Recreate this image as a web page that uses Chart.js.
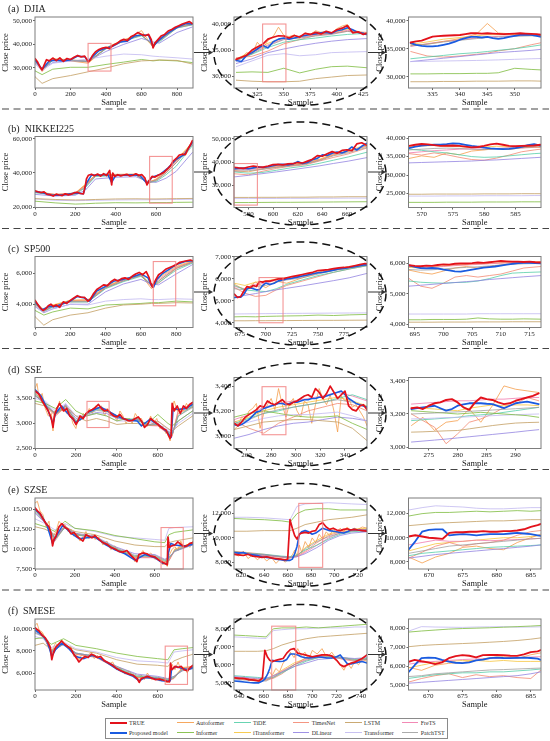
<!DOCTYPE html>
<html><head><meta charset="utf-8">
<script src="https://cdn.jsdelivr.net/npm/chart.js@4.4.1/dist/chart.umd.min.js"></script>
<style>
html,body{margin:0;padding:0;background:#fff;}
#page{position:relative;width:550px;height:741px;overflow:hidden;font-family:'Liberation Serif','Times New Roman',serif;}
canvas.panel{position:absolute;}
#overlay{position:absolute;left:0;top:0;pointer-events:none;z-index:5;}
.ttl{position:absolute;font-size:10px;color:#222;white-space:pre;line-height:12px;z-index:6;}
#legend{position:absolute;left:105px;top:718px;width:343px;height:21px;border:1px solid #8a8a8a;box-sizing:border-box;background:#fff;z-index:6;}
.li{position:absolute;font-size:6px;line-height:8px;color:#333;white-space:nowrap;}
.ln{position:absolute;height:0;}
</style></head><body><div id="page"></div>
<script>
// ================= DATA =================
// (a) DJIA - full
const A1_X=[0,15,30,40,50,65,80,100,120,140,160,180,200,220,240,260,280,300,310,325,340,360,380,400,420,440,460,480,500,520,540,560,580,600,620,640,655,665,675,690,710,730,750,770,790,810,830,850,870,885];
const A1_TRUE=[34000,32500,30200,29200,31000,33500,33000,34200,33100,34300,32800,34000,33600,34500,35300,34700,35000,32600,33300,35400,36800,37800,38400,38700,38200,39600,40300,41500,42100,41600,43200,44000,45000,44200,43600,44200,42000,38500,40500,41800,43500,44200,45600,46300,47200,47900,48600,49100,49600,48800];
const A1_PX=[0,40,80,120,160,200,240,280,300,320,360,400,440,480,520,560,600,640,665,690,730,770,810,850,885];
const A1_PROP=[33500,29500,33000,33300,33000,33500,35000,34800,32800,34500,37300,38400,39300,41000,41300,43500,44000,43800,39000,41200,43800,45800,47500,48800,48600];
const A1_MX=[0,40,100,200,300,400,500,600,665,700,800,885];
const A1_INF=[28800,27200,29500,30300,30300,31500,32500,33600,33000,33300,33000,32300];
const A1_LSTM=[26300,23500,25500,26800,28400,30000,31800,33000,33200,33400,33200,31700];
const A1_TRANS=[31700,28900,32000,33000,33800,35000,35900,35600,35000,34800,34300,33800];
const A1_DLIN=[32200,29600,32300,33000,33000,37000,40000,42500,41000,40500,45000,47300];
const A1_TIDE=[33000,29300,33200,33200,32800,38100,41500,43600,40000,41000,47000,48200];
const A1_TIMES=[33400,29000,33500,33300,32500,38300,41700,44000,39500,41500,47300,48500];
const A1_AUTO=[33000,28500,33800,33000,32000,38500,41300,45800,38800,41800,47400,48700];
const A1_ITR=[33800,29300,33900,33500,32700,38600,42000,44300,39000,42000,47400,48800];
const A1_FRETS=[33600,29400,33700,33400,32600,38400,41800,44100,39300,41600,47200,48500];
const A1_PATCH=[33300,29200,33600,33300,32700,38200,41600,43800,39800,41400,46900,48300];
const A1_XT=[0,200,400,600,800], A1_YT=[30000,40000,50000];
// (a) DJIA - zoom 1
const A2_X=[305,310,315,320,325,330,335,340,345,350,355,360,365,370,375,380,385,390,395,400,405,410,415,420,425,428];
const A2_TRUE=[33200,33600,34000,35000,35600,36100,37100,37450,37750,37700,37300,37800,37500,38200,38000,38400,38100,38600,38300,38900,39200,39700,38300,38500,38000,38200];
const A2_PROP=[33000,32800,34000,34500,35200,35900,35400,36600,37100,37300,37100,37300,37600,37800,38000,38100,38300,38400,38200,38700,38900,39300,38900,38400,38200,38000];
const A2_AUTO=[33000,33600,34500,34200,36500,35300,36800,37600,39400,37800,37600,37900,37300,38300,38000,38700,38400,38600,38200,39100,39600,39900,38500,38600,38100,38000];
const A2_MX=[305,320,335,350,365,380,395,410,428];
const A2_INF=[30700,30800,30700,31500,30600,31300,31800,31900,31600];
const A2_LSTM=[29200,29000,28900,28900,29000,29500,29800,30100,30200];
const A2_TRANS=[31800,32900,34000,34300,33900,34100,34500,34600,34700];
const A2_DLIN=[32400,33300,34500,35200,35800,36300,36700,37000,37200];
const A2_TIDE=[33000,34200,35500,36500,37000,37300,37700,38000,38200];
const A2_TIMES=[33500,33800,34800,36200,37000,37800,38200,38600,38400];
const A2_ITR=[33300,34700,36300,37300,37600,38000,38300,39000,38200];
const A2_FRETS=[33100,34500,36000,37100,37400,37900,38100,38800,38100];
const A2_PATCH=[32900,34300,35800,37000,37300,37700,38000,38600,38000];
const A2_XT=[325,350,375,400,425], A2_YT=[30000,35000,40000];
// (a) DJIA - zoom 2
const A3_X=[331,332,333,334,335,336,337,338,339,340,341,342,343,344,345,346,347,348,349,350,351,352,353,354,355];
const A3_TRUE=[36100,36300,36450,36800,37150,37250,37300,37350,37400,37450,37600,37750,37750,37700,37750,37700,37650,37600,37650,37700,37750,37700,37650,37600,37450];
const A3_PROP=[36000,35700,35500,35400,35400,35500,35700,35900,36200,36600,36900,37100,37100,37000,37100,36900,36750,36900,37100,37300,37450,37500,37450,37300,37100];
const A3_MX=[331,334,337,340,343,345,347,350,353,355];
const A3_AUTO=[35600,35800,36300,36800,37600,39500,37800,37600,37400,37300];
const A3_TIMES=[34500,33700,33500,33700,34000,34200,34600,35000,35700,36100];
const A3_TIDE=[33200,33500,33800,34100,34300,34500,34700,35000,35400,35700];
const A3_DLIN=[32700,33000,33300,33600,33900,34100,34300,34500,34700,34900];
const A3_TRANS=[32700,32750,32800,32850,32900,32950,33000,33100,33200,33250];
const A3_INF=[30500,30500,30550,30550,30600,30600,30700,31500,31300,31200];
const A3_LSTM=[29100,29100,29150,29150,29200,29200,29200,29250,29250,29200];
const A3_FRETS=[35400,35900,36300,36600,36900,37100,37200,37300,37400,37300];
const A3_ITR=[35800,36200,36700,37000,37300,37500,37500,37500,37500,37400];
const A3_PATCH=[35500,35800,36200,36500,36800,37000,37100,37200,37300,37200];
const A3_XT=[335,340,345,350], A3_YT=[30000,35000,40000];

// (b) NIKKEI225 - full
const B1_X=[0,15,30,45,60,75,90,105,120,135,150,165,180,195,210,225,240,250,255,265,280,295,310,325,340,355,370,380,385,395,410,425,440,455,470,485,500,515,530,545,555,565,580,595,610,625,640,655,670,685,700,715,730,745,760,770,780];
const B1_TRUE=[29600,29000,28600,28900,27500,27300,26500,27600,27100,26800,27800,27200,27600,28500,28700,28000,27800,33000,36500,38700,39300,38400,39400,38200,39600,38500,41500,33000,40000,38000,39000,38300,38800,39200,38300,38700,39500,38600,39000,37000,33000,35500,38000,37600,38700,39500,40500,42300,44000,47000,48500,50500,51000,50800,54500,56500,59000];
const B1_PX=[0,40,80,120,160,200,240,255,280,320,360,380,400,440,480,520,555,580,620,660,700,740,780];
const B1_PROP=[29200,28400,27000,27000,27500,28300,27900,34000,38800,38700,39200,34500,38600,38700,39000,38600,33800,37500,39200,43000,48000,50700,58000];
const B1_MX=[0,100,200,250,300,400,500,560,600,650,700,780];
const B1_INF=[23500,22500,21800,22000,22300,22600,22500,22600,22700,22700,22800,22900];
const B1_LSTM=[25000,24500,24200,24300,24500,24800,24900,24800,24800,24900,25000,25100];
const B1_TRANS=[24800,24000,23800,23900,24000,24200,24300,24300,24400,24400,24500,24600];
const B1_DLIN=[27500,26500,27000,30000,36500,37500,37800,35000,34500,37000,41000,52000];
const B1_TIDE=[28500,27000,27500,31500,38000,38500,38800,34500,35000,39000,44000,56000];
const B1_TIMES=[28800,27300,28000,32500,38500,38800,38900,34000,35500,40000,46000,57000];
const B1_AUTO=[29000,26800,28200,33000,39000,39200,39400,35000,36000,41000,47000,57500];
const B1_ITR=[29200,27500,28300,33500,39000,38900,39100,34000,36500,41500,47500,58000];
const B1_FRETS=[29000,27400,28200,33000,38800,38800,39000,34200,36200,41000,47000,57500];
const B1_PATCH=[28600,27200,27800,32000,38300,38600,38800,34300,35800,40200,46000,56500];
const B1_XT=[0,200,400,600], B1_YT=[20000,40000,60000];
// (b) zoom 1
const B2_X=[568,572,576,580,584,588,592,596,600,604,608,612,616,620,624,628,632,636,640,644,648,652,656,660,664,668,672,676];
const B2_TRUE=[37800,37500,37300,37900,38300,38000,37800,38300,38900,39000,38800,39200,39300,39800,39600,40400,41200,42800,42500,43600,44500,43800,45000,45300,44900,47800,48300,47200];
const B2_PROP=[37000,37300,37400,37100,37500,37900,37700,38000,38400,38900,39000,38800,39200,40200,39400,39800,41000,41600,43100,42800,43800,44300,43900,44800,46500,45200,46800,48000];
const B2_MX=[568,580,591,603,614,626,638,649,661,676];
const B2_INF=[22600,22600,22650,22700,22700,22750,22800,22850,22900,22950];
const B2_LSTM=[24800,24800,24850,24850,24900,24900,25000,25000,25100,25100];
const B2_TRANS=[24300,24300,24350,24350,24400,24400,24450,24450,24500,24500];
const B2_DLIN=[33600,34300,35000,35800,36600,37500,38400,39400,40400,41900];
const B2_TIDE=[35800,35200,35500,36500,37500,38300,39500,40800,42200,44200];
const B2_TIMES=[35000,34500,36000,37300,38200,38800,40500,42000,43500,46000];
const B2_AUTO=[36300,35800,37000,37800,38600,39300,41000,43000,44500,46800];
const B2_ITR=[37000,37200,37500,38200,38900,39600,41300,43500,44800,47500];
const B2_FRETS=[36500,36800,37200,38000,38600,39400,41000,43200,44600,47000];
const B2_PATCH=[36000,36300,36800,37700,38400,39100,40700,42700,44000,46300];
const B2_XT=[580,600,620,640,660], B2_YT=[30000,40000,50000];
// (b) zoom 2
const B3_X=[568,569,570,571,572,573,574,575,576,577,578,579,580,581,582,583,584,585,586,587,588,589];
const B3_TRUE=[37900,38200,38400,38300,38100,37900,37950,38000,37900,37700,37500,37600,37900,38300,38500,38200,37900,37800,37900,37950,38000,38200];
const B3_PROP=[37300,37700,37950,38100,38200,38250,38400,38600,38500,38200,37900,37700,37400,37200,37100,37000,37100,37300,37600,38100,38400,38000];
const B3_MX=[568,570,572,574,576,578,580,582,584,586,588,589];
const B3_AUTO=[34500,35200,34800,36000,35500,36500,36800,37200,36900,37400,37600,37500];
const B3_TIMES=[35800,35400,36000,35500,34800,34200,34000,34600,35400,36300,36800,37000];
const B3_TIDE=[37000,36700,36300,36000,35500,35000,34800,34900,35200,35500,35800,35900];
const B3_DLIN=[33300,33400,33500,33600,33700,33800,34000,34100,34300,34500,34700,34800];
const B3_ITR=[37600,37900,38000,37800,37700,37500,37600,37800,37700,37600,37900,38000];
const B3_FRETS=[36000,36300,36600,36800,37000,37100,37000,37200,37400,37300,37500,37600];
const B3_PATCH=[36800,37000,37200,37300,37200,37000,36900,37100,37300,37400,37600,37700];
const B3_INF=[22600,22600,22600,22650,22650,22650,22700,22700,22700,22750,22750,22750];
const B3_LSTM=[24800,24800,24850,24850,24850,24850,24900,24900,24900,24950,24950,24950];
const B3_TRANS=[24300,24300,24300,24350,24350,24350,24400,24400,24400,24400,24450,24450];
const B3_XT=[570,575,580,585], B3_YT=[25000,30000,35000,40000];

// (c) SP500 - full
const C1_X=[0,15,30,45,60,75,90,105,120,140,160,180,200,220,240,260,280,300,315,330,350,370,390,410,430,450,470,490,510,530,550,570,590,610,630,645,655,665,672,685,700,720,740,760,780,800,820,840,860,880,892];
const C1_TRUE=[4250,4000,3750,3600,3700,3900,4000,3850,3950,3800,4150,4050,4250,4400,4550,4450,4450,4200,4350,4650,4950,5100,5250,5200,5450,5600,5500,5650,5700,5600,5800,5950,6050,5900,6100,5750,5400,5100,5300,5600,5900,6050,6250,6350,6450,6550,6700,6750,6800,6850,6800];
const C1_PX=[0,40,80,120,160,200,240,280,310,350,400,450,500,550,600,640,660,672,690,720,760,800,850,892];
const C1_PROP=[4150,3650,3850,3850,4050,4200,4500,4400,4200,4850,5150,5500,5600,5750,5950,5700,5200,5100,5600,5950,6250,6550,6750,6800];
const C1_MX=[0,50,100,200,300,400,500,600,660,700,800,892];
const C1_INF=[3600,3300,3500,3750,3700,3950,4000,4050,4100,4100,4200,4150];
const C1_LSTM=[3200,2650,3000,3300,3450,3750,3950,4000,4050,4050,4100,4080];
const C1_TRANS=[3900,3500,3700,4000,3950,4200,4300,4350,4300,4300,4350,4320];
const C1_DLIN=[3850,3450,3700,4000,4000,4800,5300,5600,5300,5250,5950,6550];
const C1_TIDE=[4050,3550,3800,4150,4150,5000,5450,5800,5250,5400,6200,6650];
const C1_TIMES=[4100,3600,3850,4200,4200,5050,5500,5850,5200,5350,6300,6700];
const C1_AUTO=[3950,3500,3900,4250,4300,5100,5600,5900,5000,5500,6350,6750];
const C1_ITR=[4200,3650,3950,4250,4250,5150,5600,5950,5200,5700,6450,6800];
const C1_FRETS=[4150,3600,3900,4200,4200,5100,5550,5900,5150,5600,6400,6750];
const C1_PATCH=[4000,3550,3850,4150,4150,5050,5500,5850,5250,5500,6300,6700];
const C1_XT=[0,200,400,600,800], C1_YT=[4000,6000];
// (c) zoom 1
const C2_X=[670,673,676,679,682,685,688,691,694,697,700,704,708,712,716,720,725,730,735,740,745,750,755,760,765,770,775,780,785,790,795,797];
const C2_TRUE=[5300,5150,5200,5450,5650,5600,5700,5650,5880,5850,5900,5900,5950,6000,6000,6050,6100,6150,6200,6250,6300,6380,6400,6420,6470,6500,6520,6550,6600,6650,6700,6680];
const C2_PROP=[5150,5170,5170,5300,5550,5600,5550,5500,5510,5700,5810,5740,5800,5910,5950,6000,6030,6080,6130,6180,6230,6280,6300,6350,6400,6450,6480,6520,6560,6600,6650,6640];
const C2_MX=[670,680,690,700,710,720,735,750,765,780,797];
const C2_INF=[4270,4280,4270,4290,4300,4310,4320,4350,4330,4360,4380];
const C2_LSTM=[4090,4090,4095,4095,4100,4100,4105,4110,4110,4115,4120];
const C2_TRANS=[4400,4405,4410,4415,4420,4425,4430,4435,4440,4445,4450];
const C2_DLIN=[5150,5250,5330,5420,5500,5570,5680,5800,5920,6050,6250];
const C2_TIDE=[5700,5500,5450,5420,5550,5750,5950,6150,6300,6450,6600];
const C2_TIMES=[5600,5350,5200,5250,5500,5700,5900,6100,6300,6450,6600];
const C2_AUTO=[5750,5500,5850,5600,5900,5800,6050,6250,6400,6500,6650];
const C2_ITR=[5800,5700,5850,5900,6000,6050,6150,6300,6450,6550,6680];
const C2_FRETS=[5650,5550,5750,5800,5950,6000,6100,6280,6420,6520,6650];
const C2_PATCH=[5550,5500,5650,5700,5850,5950,6050,6220,6380,6500,6620];
const C2_XT=[675,700,725,750,775], C2_YT=[4000,5000,6000,7000];
// (c) zoom 2
const C3_X=[694,695,696,697,698,699,700,701,702,703,704,705,706,707,708,709,710,711,712,713,714,715,716,717];
const C3_TRUE=[5940,5920,5910,5930,5920,5950,5970,5960,5990,6000,6000,6010,6030,6020,6040,6060,6080,6070,6060,6060,6050,6060,6040,6030];
const C3_PROP=[5940,5890,5850,5840,5850,5840,5800,5770,5740,5730,5760,5800,5830,5860,5880,5900,5930,5960,5990,6010,6020,6020,6010,6000];
const C3_MX=[694,696,698,700,702,704,706,708,710,712,714,717];
const C3_AUTO=[5780,5700,5650,5750,5850,5900,5850,5900,5950,6000,6030,6050];
const C3_TIMES=[5500,5250,5180,5350,5550,5600,5550,5600,5650,5750,5850,5900];
const C3_TIDE=[5420,5380,5360,5350,5370,5380,5420,5500,5600,5680,5700,5720];
const C3_DLIN=[5250,5280,5310,5340,5370,5400,5430,5470,5500,5530,5560,5600];
const C3_TRANS=[4330,4330,4330,4330,4330,4330,4340,4340,4340,4340,4340,4340];
const C3_INF=[4140,4140,4150,4150,4150,4160,4200,4170,4160,4160,4170,4160];
const C3_LSTM=[4060,4060,4060,4065,4065,4065,4070,4070,4070,4075,4075,4075];
const C3_ITR=[5870,5850,5880,5920,5950,5960,5980,6000,6020,6030,6040,6050];
const C3_FRETS=[5900,5880,5870,5900,5930,5950,5970,5990,6010,6030,6040,6050];
const C3_PATCH=[5800,5780,5790,5820,5850,5870,5890,5920,5950,5970,5990,6000];
const C3_XT=[695,700,705,710,715], C3_YT=[4000,5000,6000];

// (d) SSE - full
const D1_X=[0,10,20,35,50,65,80,88,95,105,120,130,140,155,170,185,200,210,220,235,250,265,280,295,310,325,340,355,370,385,400,415,430,445,460,475,490,505,520,535,550,565,580,595,610,625,640,650,660,665,670,680,695,710,725,740,755,770];
const D1_TRUE=[3650,3620,3580,3450,3350,3250,3100,2920,3150,3280,3400,3320,3250,3300,3150,3100,2980,3050,3150,3100,3200,3250,3280,3320,3380,3300,3250,3270,3200,3150,3130,3180,3100,3080,3050,3060,3100,3130,3050,2920,2980,3100,3050,3000,2950,2900,2870,2780,2700,2750,3400,3250,3350,3200,3350,3300,3380,3420];
const D1_AUTO=[3700,3800,3500,3600,3300,3150,3200,2850,3250,3200,3450,3250,3300,3200,3250,3000,2900,3100,3050,3200,3150,3300,3200,3350,3300,3350,3150,3300,3150,3200,3050,3250,3150,3000,3100,3000,3200,3100,3100,2950,3000,3150,3000,3100,2900,2950,2800,2850,2650,2800,3300,3450,3250,3300,3250,3400,3300,3350];
const D1_PX=[0,30,60,88,100,130,160,200,230,260,290,320,350,400,450,500,520,560,600,640,665,675,700,740,770];
const D1_PROP=[3680,3550,3300,3000,3200,3350,3200,3020,3100,3230,3280,3330,3260,3150,3070,3050,2950,3080,2980,2850,2720,3300,3280,3300,3380];
const D1_MX=[0,50,100,150,200,250,300,350,400,450,500,550,600,650,670,700,770];
const D1_INF=[3450,3400,3300,3480,3250,3150,3200,3150,3050,3100,3050,3000,3180,3000,2950,3050,3250];
const D1_LSTM=[3400,3350,3200,3350,3150,3050,3100,3050,2980,3000,3000,2950,3050,2900,2850,2950,3150];
const D1_TRANS=[3500,3450,3250,3400,3150,3150,3200,3150,3050,3050,3050,3000,3050,2880,2850,3000,3200];
const D1_DLIN=[3550,3420,3200,3380,3100,3150,3220,3200,3100,3080,3080,2980,3000,2850,2800,3050,3250];
const D1_TIDE=[3600,3380,3180,3350,3050,3180,3280,3250,3150,3080,3100,2970,2980,2820,2780,3150,3350];
const D1_TIMES=[3580,3350,3150,3330,3020,3200,3300,3260,3140,3070,3080,2960,2970,2800,2760,3200,3330];
const D1_ITR=[3620,3370,3180,3360,3030,3200,3300,3280,3150,3070,3090,2960,2960,2800,2750,3250,3380];
const D1_FRETS=[3640,3360,3170,3340,3020,3210,3310,3290,3140,3060,3080,2960,2950,2790,2740,3270,3390];
const D1_PATCH=[3560,3390,3190,3350,3060,3170,3260,3240,3120,3080,3080,2970,2990,2830,2790,3150,3320];
const D1_XT=[0,200,400,600], D1_YT=[2500,3000,3500];
// (d) zoom 1
const D2_X=[250,253,256,259,262,265,268,271,274,277,280,283,286,289,292,295,298,301,304,307,310,313,316,319,322,325,328,331,334,337,340,343,346,349,352,355,358];
const D2_TRUE=[3100,3080,3110,3150,3170,3190,3210,3240,3230,3280,3260,3250,3270,3290,3260,3250,3270,3280,3300,3320,3330,3310,3380,3350,3300,3340,3400,3350,3300,3330,3360,3240,3210,3200,3240,3250,3210];
const D2_PROP=[3090,3080,3090,3110,3130,3160,3190,3200,3220,3230,3240,3250,3260,3260,3250,3260,3270,3270,3280,3290,3290,3300,3300,3310,3310,3320,3330,3340,3350,3360,3330,3300,3280,3260,3250,3240,3230];
const D2_AUTO=[3050,3080,3150,3130,3200,3220,3260,3060,3180,3250,3300,3210,3380,3250,3150,3260,3300,3200,3150,3280,3250,3100,3250,3380,3300,3250,3330,3200,3030,3320,3280,3300,3230,3250,3200,3150,3080];
const D2_MX=[250,262,274,286,298,310,322,334,346,358];
const D2_INF=[3150,3180,3200,3180,3160,3150,3150,3160,3100,3050];
const D2_LSTM=[3050,3080,3110,3120,3130,3130,3120,3110,3060,2960];
const D2_TRANS=[3080,3110,3140,3160,3170,3170,3180,3190,3160,3120];
const D2_DLIN=[2980,3010,3050,3080,3100,3110,3130,3150,3140,3120];
const D2_TIDE=[3100,3140,3180,3200,3230,3250,3270,3300,3330,3290];
const D2_TIMES=[3120,3060,3020,3100,3150,3200,3230,3260,3250,3200];
const D2_ITR=[3110,3150,3200,3230,3250,3270,3290,3310,3280,3240];
const D2_FRETS=[3130,3170,3230,3260,3280,3300,3320,3350,3320,3280];
const D2_PATCH=[3090,3130,3180,3210,3230,3250,3270,3290,3270,3230];
const D2_XT=[260,280,300,320,340], D2_YT=[3000,3200,3400];
// (d) zoom 2
const D3_X=[272,273,274,275,276,277,278,279,280,281,282,283,284,285,286,287,288,289,290,291,292,293,294];
const D3_TRUE=[3235,3240,3230,3250,3265,3270,3285,3290,3270,3240,3225,3270,3300,3290,3285,3270,3260,3265,3280,3290,3300,3310,3325];
const D3_PROP=[3230,3235,3240,3245,3250,3235,3220,3230,3250,3258,3265,3266,3265,3262,3260,3248,3235,3250,3265,3270,3275,3268,3260];
const D3_MX=[272,274,276,278,280,282,284,286,288,290,292,294];
const D3_AUTO=[3130,3180,3100,3150,3160,3230,3150,3250,3370,3350,3340,3330];
const D3_TIMES=[3200,3160,3120,3020,3080,3150,3170,3200,3240,3260,3300,3280];
const D3_TIDE=[3160,3165,3170,3175,3180,3190,3195,3200,3210,3220,3230,3240];
const D3_FRETS=[3260,3265,3270,3275,3280,3280,3285,3290,3290,3295,3300,3300];
const D3_ITR=[3240,3235,3230,3225,3220,3235,3245,3255,3250,3255,3255,3250];
const D3_INF=[3220,3215,3210,3205,3200,3205,3210,3205,3200,3195,3190,3180];
const D3_LSTM=[3090,3092,3095,3098,3100,3110,3120,3130,3138,3145,3148,3150];
const D3_TRANS=[3170,3172,3175,3178,3180,3183,3186,3190,3193,3196,3198,3200];
const D3_DLIN=[3030,3036,3042,3048,3055,3062,3069,3076,3083,3090,3098,3105];
const D3_PATCH=[3200,3203,3206,3210,3213,3216,3220,3224,3228,3232,3236,3240];
const D3_XT=[275,280,285,290], D3_YT=[3000,3200,3400];

// (e) SZSE - full
const E1_X=[0,12,25,40,55,70,80,88,95,105,120,135,150,165,180,195,210,225,240,255,270,285,300,320,340,360,380,400,420,440,460,480,500,510,520,540,560,580,600,620,640,655,662,666,672,685,700,715,730,745,760,775,790];
const E1_TRUE=[15200,14800,14500,13800,13200,12800,12000,10400,11200,11600,12800,13200,12700,12500,11900,12100,11600,11300,11000,11800,11600,11400,11700,11200,10800,10600,10200,10000,9700,9600,9800,9200,8700,8400,9300,9500,9400,9100,9000,8600,8300,8100,8000,11500,10200,10400,10500,10900,10600,10300,10400,10700,10800];
const E1_AUTO=[15800,16000,14800,14300,12800,13500,11500,10800,11800,12200,13500,13000,13100,12200,12500,11600,12000,11000,11500,12200,11300,11800,11200,11500,10500,11000,9900,10400,9600,9900,9400,9500,8400,9200,9000,9800,9100,9500,8700,8900,8000,8500,7800,8200,9200,9900,10300,9800,11000,10100,10600,10200,11000];
const E1_PX=[0,30,60,88,110,140,180,220,260,300,350,400,450,500,550,600,640,662,668,680,700,730,760,790];
const E1_PROP=[15000,14300,13000,10700,11800,13000,12000,11300,11400,11500,10600,9900,9400,8600,9300,8900,8200,8100,9500,10700,10500,10400,10400,10600];
const E1_MX=[0,50,100,150,200,300,400,500,600,650,670,700,790];
const E1_INF=[13200,12800,12200,13500,12600,12300,11700,11300,10900,10800,11800,12100,12400];
const E1_TRANS=[13800,13200,12400,13200,12600,12200,11600,11400,11200,11100,12600,12700,12800];
const E1_LSTM=[12800,12500,11800,12800,12200,11800,11000,10500,10300,10300,10800,11000,11400];
const E1_DLIN=[14500,13300,11500,12800,12000,11600,10300,9400,9300,8700,9000,9700,10500];
const E1_TIDE=[14900,13400,11200,12700,11800,11500,10100,9100,9100,8500,8800,9800,10600];
const E1_TIMES=[15000,13300,11000,12800,11800,11400,10000,9000,9000,8400,8600,9900,10700];
const E1_ITR=[15100,13500,11300,12900,11900,11500,10100,9000,9000,8300,8500,10000,10800];
const E1_FRETS=[15100,13400,11200,12900,11800,11500,10000,8900,8900,8300,8500,9800,10700];
const E1_PATCH=[14700,13400,11300,12700,11900,11500,10200,9200,9200,8600,8900,9700,10600];
const E1_XT=[0,200,400,600], E1_YT=[7500,10000,12500,15000];
// (e) zoom 1
const E2_X=[614,618,622,626,630,634,638,642,646,650,654,658,660,662,664,666,668,670,672,675,678,681,684,687,690,693,696,699,702,705,708,711,714,717,720,724,728];
const E2_TRUE=[8650,8600,8550,8650,8500,8450,8400,8450,8350,8300,8250,8200,8250,11500,10800,10200,9900,10300,10400,10450,10400,10550,10600,11100,11250,10900,10700,10800,10650,10600,10700,10750,10650,10700,10650,10600,10550];
const E2_PROP=[8800,8750,8800,8650,8600,8550,8450,8400,8350,8250,8200,8150,8150,8150,8250,8700,9300,10300,10500,10600,10500,10300,10400,10600,10800,10700,10600,10550,10500,10450,10400,10500,10650,10700,10650,10600,10600];
const E2_AUTO=[8700,8500,8900,8300,8600,8200,8500,8100,8400,7900,8300,8000,8200,8400,8600,9000,8500,9400,8800,9700,9200,10000,9600,10300,9900,10500,10200,10700,10400,10800,10500,10900,10600,10800,10700,10900,10800];
const E2_MX=[614,625,640,655,662,668,675,685,695,705,715,728];
const E2_INF=[11600,11550,11500,11400,11300,12000,12300,12400,12400,12300,12300,12300];
const E2_TRANS=[11700,11700,11650,11550,11500,12600,12800,12850,12900,12850,12800,12750];
const E2_LSTM=[10550,10550,10600,10600,10600,10800,11100,11300,11500,11600,11700,11900];
const E2_DLIN=[8800,8700,8600,8450,8400,8450,8700,9200,9800,10200,10400,10500];
const E2_TIDE=[8850,8750,8650,8500,8450,8600,9000,9400,9900,10300,10500,10600];
const E2_TIMES=[8900,8800,8650,8450,8400,8500,8900,9600,10200,10500,10600,10700];
const E2_ITR=[8700,8650,8550,8400,8350,8500,9200,9800,10300,10600,10700,10800];
const E2_FRETS=[8750,8700,8550,8400,8350,8450,8800,9400,10000,10400,10600,10700];
const E2_PATCH=[8850,8750,8600,8450,8400,8550,9100,9700,10100,10400,10550,10650];
const E2_XT=[620,640,660,680,700,720], E2_YT=[8000,10000,12000];
// (e) zoom 2
const E3_X=[667,668,669,670,671,672,673,674,675,676,677,678,679,680,681,682,683,684,685,686,686.5];
const E3_TRUE=[10100,10200,10100,10000,9950,9900,10400,10450,10450,10500,10500,10550,10500,10500,10550,10550,10600,10700,10900,11050,11150];
const E3_PROP=[9000,9700,10500,10650,10700,10700,10200,10250,10300,10250,10200,10250,10300,10300,10300,10350,10400,10350,10300,10200,10150];
const E3_MX=[667,669,671,673,675,677,679,681,683,685,686.5];
const E3_TRANS=[12300,12500,12650,12600,12550,12450,12400,12400,12450,12500,12500];
const E3_INF=[11800,12000,12100,12100,12150,12200,12150,12200,12250,12200,12250];
const E3_LSTM=[11000,11100,11200,11250,11300,11350,11400,11400,11450,11500,11500];
const E3_AUTO=[8400,7900,8400,8700,9200,9300,9100,9000,9600,10000,10300];
const E3_TIMES=[8300,8800,9300,9600,9300,9500,9600,9800,10200,10500,10600];
const E3_TIDE=[8500,8700,8800,8900,9000,9100,9200,9250,9300,9350,9400];
const E3_FRETS=[9400,9600,9800,9700,9700,9800,9750,9800,9850,9900,9950];
const E3_ITR=[8900,9200,9500,9600,9700,9800,9900,10000,10000,10100,10200];
const E3_DLIN=[8300,8450,8600,8700,8800,8900,9000,9100,9200,9300,9400];
const E3_PATCH=[8700,8900,9100,9300,9400,9500,9600,9700,9800,9900,9950];
const E3_XT=[670,675,680,685], E3_YT=[8000,10000,12000];

// (f) SMESE - full
const F1_X=[0,10,20,35,50,65,75,82,90,100,115,130,145,160,175,190,205,215,230,245,260,275,290,305,320,340,360,380,400,420,440,460,480,500,510,520,535,550,570,590,610,630,645,658,663,670,685,700,715,730,745,760,772];
const F1_TRUE=[10100,9950,9800,9400,9200,8700,8300,7200,7800,8300,8600,8900,8600,8400,8200,7700,7300,7000,7300,7500,7400,7700,7600,7400,7500,7100,6900,6700,6400,6200,6050,5900,5800,5500,5150,5500,5600,5700,5550,5400,5450,5350,5250,5200,6900,6300,6600,6500,6600,6300,6200,6500,6700];
const F1_AUTO=[10300,10500,9900,9700,9200,8900,8400,7600,8300,8700,8400,9000,8700,8200,8400,7500,7600,7200,7700,7400,7600,7900,7300,7600,7300,7200,6800,7000,6300,6400,5900,6200,5700,5700,5300,5800,5400,6000,5400,5600,5300,5600,5100,5400,6200,6800,6300,7000,6200,6500,6000,6600,6400];
const F1_PX=[0,30,60,82,100,130,160,200,240,280,320,360,400,440,480,510,540,580,620,650,662,668,690,720,750,772];
const F1_PROP=[9900,9500,8900,7500,8100,8700,8300,7500,7300,7600,7300,6850,6350,6000,5700,5300,5600,5500,5300,5250,5300,6300,6600,6400,6300,6500];
const F1_MX=[0,40,80,140,200,300,400,500,600,650,680,720,772];
const F1_INF=[9100,9200,8600,9100,8500,8200,7800,7500,7300,7200,8100,8200,8300];
const F1_TRANS=[9300,9100,8300,8800,8200,7900,7400,7100,7000,6900,7900,8000,8100];
const F1_LSTM=[8500,8700,8100,8600,8100,7800,7200,6800,6700,6600,7100,7400,7700];
const F1_DLIN=[9700,9300,7900,8600,7800,7500,6600,5900,5700,5500,5700,6200,6400];
const F1_TIDE=[9800,9350,7900,8700,7800,7500,6500,5700,5600,5400,5600,6300,6500];
const F1_TIMES=[9900,9400,7800,8700,7700,7400,6400,5600,5500,5300,5500,6400,6600];
const F1_ITR=[10000,9500,7900,8800,7700,7500,6500,5600,5500,5300,5600,6500,6600];
const F1_FRETS=[9900,9450,7850,8750,7750,7450,6450,5650,5550,5350,5550,6400,6550];
const F1_PATCH=[9600,9300,8000,8600,7800,7500,6600,5800,5600,5450,5700,6200,6400];
const F1_XT=[0,200,400,600], F1_YT=[6000,8000,10000];
// (f) zoom 1
const F2_X=[636,640,644,648,652,656,659,661,663,665,667,670,673,676,679,682,685,688,691,694,697,700,704,708,712,716,720,723,726,729,732,735,738,741,745];
const F2_TRUE=[5270,5250,5230,5180,5150,5100,5270,6800,6450,6250,6180,6250,6300,6350,6650,6850,6900,6650,6600,6550,6500,6450,6500,6550,6550,6500,6250,6000,5900,6000,6100,6150,6250,6350,6550];
const F2_PROP=[5100,5080,5050,5020,5000,5000,5100,5200,5450,5800,6250,6200,6180,6200,6300,6600,6600,6550,6450,6400,6380,6400,6450,6420,6380,6380,6450,6550,6300,6050,6050,6100,6150,6180,6100];
const F2_AUTO=[5300,5200,5350,5100,5250,5050,5200,5300,5450,5600,5400,5800,5600,6100,6300,6700,6400,6900,6500,6700,6300,6800,6600,6900,6400,6700,6300,6000,5700,6100,5800,6200,6000,6300,6200];
const F2_MX=[636,645,655,662,668,675,685,695,705,715,725,735,745];
const F2_INF=[7650,7620,7580,7550,8000,8050,8050,8100,8050,8100,8150,8200,8250];
const F2_TRANS=[7550,7520,7480,7460,7900,7950,8000,8000,8050,8050,8050,8100,8100];
const F2_LSTM=[6750,6750,6750,6780,6900,7100,7300,7450,7550,7600,7650,7700,7750];
const F2_DLIN=[5350,5300,5250,5250,5400,5600,5900,6100,6300,6350,6400,6350,6400];
const F2_TIDE=[5400,5350,5300,5250,5300,5550,5900,6200,6400,6450,6400,6300,6350];
const F2_TIMES=[5300,5250,5200,5200,5250,5500,6000,6400,6500,6500,6300,6200,6300];
const F2_ITR=[5250,5200,5150,5150,5400,5700,6100,6350,6500,6500,6400,6300,6350];
const F2_FRETS=[5300,5250,5200,5150,5350,5650,6000,6300,6450,6500,6350,6250,6300];
const F2_PATCH=[5200,5150,5100,5100,5300,5600,6000,6250,6400,6450,6350,6250,6300];
const F2_XT=[640,660,680,700,720,740], F2_YT=[5000,6000,7000,8000];
// (f) zoom 2
const F3_X=[667,668,669,670,671,672,673,674,675,676,677,678,679,680,681,682,683,684,685,686,686.5];
const F3_TRUE=[6210,6330,6260,6200,6110,6200,6420,6530,6580,6550,6460,6580,6590,6590,6580,6550,6540,6620,6740,6780,6850];
const F3_PROP=[5640,6050,6420,6450,6440,6330,6240,6180,6160,6200,6300,6350,6420,6450,6430,6420,6440,6450,6430,6400,6330];
const F3_MX=[667,669,671,673,675,677,679,681,683,685,686.5];
const F3_INF=[7790,7850,7900,7950,7980,8000,8020,8050,8080,8110,8140];
const F3_TRANS=[7830,8080,8060,8050,8040,8060,8070,8080,8050,8060,8070];
const F3_LSTM=[7020,7090,7130,7160,7190,7220,7260,7300,7350,7420,7490];
const F3_AUTO=[5950,5780,6050,6150,6200,6300,6450,6500,6400,6600,6700];
const F3_ITR=[5900,6050,6200,6250,6300,6300,6250,6300,6250,6250,6250];
const F3_FRETS=[6100,6200,6250,6300,6350,6380,6400,6420,6450,6480,6500];
const F3_TIDE=[5350,5450,5550,5600,5650,5650,5700,5700,5750,5800,5850];
const F3_TIMES=[5150,5350,5500,5600,5400,5550,5450,5500,5400,5350,5800];
const F3_DLIN=[5100,5150,5200,5250,5300,5350,5400,5450,5500,5600,5700];
const F3_PATCH=[5450,5500,5600,5650,5700,5750,5800,5820,5850,5880,5900];
const F3_XT=[670,675,680,685], F3_YT=[5000,6000,7000,8000];

const ROW_TITLES=['(a)  DJIA','(b)  NIKKEI225','(c)  SP500','(d)  SSE','(e)  SZSE','(f)  SMESE'];
const LEGEND_ROW1=[['TRUE','TRUE'],['AUTO','Autoformer'],['TIDE','TiDE'],['TIMES','TimesNet'],['LSTM','LSTM'],['FRETS','FreTS']];
const LEGEND_ROW2=[['PROP','Proposed model'],['INF','Informer'],['ITR','iTransformer'],['DLIN','DLinear'],['TRANS','Transformer'],['PATCH','PatchTST']];

// ================= STYLE / LAYOUT =================
const FONT="'Liberation Serif','Times New Roman',serif";
const COLORS={TRUE:'#e3121b',PROP:'#1a5be0',AUTO:'rgba(245,158,78,0.9)',INF:'rgba(128,188,66,0.9)',TIDE:'rgba(78,204,164,0.85)',ITR:'rgba(246,198,64,0.9)',TIMES:'rgba(242,132,108,0.85)',DLIN:'rgba(142,126,224,0.85)',LSTM:'rgba(196,160,100,0.9)',TRANS:'rgba(194,186,240,0.9)',FRETS:'rgba(240,116,168,0.85)',PATCH:'rgba(150,150,150,0.8)'};
const ROW_TOP=[17,136.5,256.5,377.5,498,619];
const BOX_H=71;
const COL_X=[[35,193],[234,367],[408.5,541]];
const YW=35, XH=22, PT=6, PR=7, PB=1;

const page=document.getElementById('page');
function fmt(v){return String(Math.round(v)).replace(/\B(?=(\d{3})+(?!\d))/g,',');}
function pts(xs,ys){return xs.map((x,i)=>({x:x,y:ys[i]}));}

function seriesFor(p){
  return [
    ['TRUE',p.X,p.TRUE],['PROP',p.PX||p.X,p.PROP],
    ['PATCH',p.MX,p.PATCH],['LSTM',p.MX,p.LSTM],['INF',p.MX,p.INF],['TRANS',p.MX,p.TRANS],
    ['DLIN',p.MX,p.DLIN],['TIDE',p.MX,p.TIDE],['TIMES',p.MX,p.TIMES],
    ['AUTO',p.AX||p.MX,p.AUTO],['FRETS',p.MX,p.FRETS],['ITR',p.MX,p.ITR]
  ];
}

const PANELS=[
 {row:0,col:0,xr:[0,890],yr:[21540,51560],xt:A1_XT,yt:A1_YT,rect:[299,428,28700,40400],X:A1_X,TRUE:A1_TRUE,PX:A1_PX,PROP:A1_PROP,MX:A1_MX,INF:A1_INF,LSTM:A1_LSTM,TRANS:A1_TRANS,DLIN:A1_DLIN,TIDE:A1_TIDE,TIMES:A1_TIMES,AUTO:A1_AUTO,ITR:A1_ITR,FRETS:A1_FRETS,PATCH:A1_PATCH},
 {row:0,col:1,xr:[303,428.5],yr:[27700,41350],xt:A2_XT,yt:A2_YT,rect:[330,352,28900,40000],X:A2_X,TRUE:A2_TRUE,PROP:A2_PROP,AX:A2_X,AUTO:A2_AUTO,MX:A2_MX,INF:A2_INF,LSTM:A2_LSTM,TRANS:A2_TRANS,DLIN:A2_DLIN,TIDE:A2_TIDE,TIMES:A2_TIMES,ITR:A2_ITR,FRETS:A2_FRETS,PATCH:A2_PATCH},
 {row:0,col:2,xr:[330.6,354.8],yr:[27980,40660],xt:A3_XT,yt:A3_YT,X:A3_X,TRUE:A3_TRUE,PROP:A3_PROP,MX:A3_MX,AUTO:A3_AUTO,TIMES:A3_TIMES,TIDE:A3_TIDE,DLIN:A3_DLIN,TRANS:A3_TRANS,INF:A3_INF,LSTM:A3_LSTM,FRETS:A3_FRETS,ITR:A3_ITR,PATCH:A3_PATCH},
 {row:1,col:0,xr:[0,783],yr:[19800,61360],xt:B1_XT,yt:B1_YT,rect:[568,680,22360,49700],X:B1_X,TRUE:B1_TRUE,PX:B1_PX,PROP:B1_PROP,MX:B1_MX,INF:B1_INF,LSTM:B1_LSTM,TRANS:B1_TRANS,DLIN:B1_DLIN,TIDE:B1_TIDE,TIMES:B1_TIMES,AUTO:B1_AUTO,ITR:B1_ITR,FRETS:B1_FRETS,PATCH:B1_PATCH},
 {row:1,col:1,xr:[568.3,676.3],yr:[20470,51000],xt:B2_XT,yt:B2_YT,rect:[568.3,587.3,21500,39370],X:B2_X,TRUE:B2_TRUE,PROP:B2_PROP,MX:B2_MX,INF:B2_INF,LSTM:B2_LSTM,TRANS:B2_TRANS,DLIN:B2_DLIN,TIDE:B2_TIDE,TIMES:B2_TIMES,AUTO:B2_AUTO,ITR:B2_ITR,FRETS:B2_FRETS,PATCH:B2_PATCH},
 {row:1,col:2,xr:[567.9,589.1],yr:[21210,40440],xt:B3_XT,yt:B3_YT,X:B3_X,TRUE:B3_TRUE,PROP:B3_PROP,MX:B3_MX,AUTO:B3_AUTO,TIMES:B3_TIMES,TIDE:B3_TIDE,DLIN:B3_DLIN,ITR:B3_ITR,FRETS:B3_FRETS,PATCH:B3_PATCH,INF:B3_INF,LSTM:B3_LSTM,TRANS:B3_TRANS},
 {row:2,col:0,xr:[0,895],yr:[2500,7075],xt:C1_XT,yt:C1_YT,rect:[670,797,3900,6750],X:C1_X,TRUE:C1_TRUE,PX:C1_PX,PROP:C1_PROP,MX:C1_MX,INF:C1_INF,LSTM:C1_LSTM,TRANS:C1_TRANS,DLIN:C1_DLIN,TIDE:C1_TIDE,TIMES:C1_TIMES,AUTO:C1_AUTO,ITR:C1_ITR,FRETS:C1_FRETS,PATCH:C1_PATCH},
 {row:2,col:1,xr:[669.5,797],yr:[3784,7020],xt:C2_XT,yt:C2_YT,rect:[693.5,716.5,4000,6060],X:C2_X,TRUE:C2_TRUE,PROP:C2_PROP,MX:C2_MX,INF:C2_INF,LSTM:C2_LSTM,TRANS:C2_TRANS,DLIN:C2_DLIN,TIDE:C2_TIDE,TIMES:C2_TIMES,AUTO:C2_AUTO,ITR:C2_ITR,FRETS:C2_FRETS,PATCH:C2_PATCH},
 {row:2,col:2,xr:[693.9,717],yr:[3885,6230],xt:C3_XT,yt:C3_YT,X:C3_X,TRUE:C3_TRUE,PROP:C3_PROP,MX:C3_MX,AUTO:C3_AUTO,TIMES:C3_TIMES,TIDE:C3_TIDE,DLIN:C3_DLIN,TRANS:C3_TRANS,INF:C3_INF,LSTM:C3_LSTM,ITR:C3_ITR,FRETS:C3_FRETS,PATCH:C3_PATCH},
 {row:3,col:0,xr:[0,772],yr:[2500,3919],xt:D1_XT,yt:D1_YT,rect:[254,362,2919,3442],X:D1_X,TRUE:D1_TRUE,AX:D1_X,AUTO:D1_AUTO,PX:D1_PX,PROP:D1_PROP,MX:D1_MX,INF:D1_INF,LSTM:D1_LSTM,TRANS:D1_TRANS,DLIN:D1_DLIN,TIDE:D1_TIDE,TIMES:D1_TIMES,ITR:D1_ITR,FRETS:D1_FRETS,PATCH:D1_PATCH},
 {row:3,col:1,xr:[249.8,357.9],yr:[2897,3469],xt:D2_XT,yt:D2_YT,rect:[272.6,292,3008,3395],X:D2_X,TRUE:D2_TRUE,PROP:D2_PROP,AX:D2_X,AUTO:D2_AUTO,MX:D2_MX,INF:D2_INF,LSTM:D2_LSTM,TRANS:D2_TRANS,DLIN:D2_DLIN,TIDE:D2_TIDE,TIMES:D2_TIMES,ITR:D2_ITR,FRETS:D2_FRETS,PATCH:D2_PATCH},
 {row:3,col:2,xr:[271.5,294.4],yr:[2991,3421],xt:D3_XT,yt:D3_YT,X:D3_X,TRUE:D3_TRUE,PROP:D3_PROP,MX:D3_MX,AUTO:D3_AUTO,TIMES:D3_TIMES,TIDE:D3_TIDE,FRETS:D3_FRETS,ITR:D3_ITR,INF:D3_INF,LSTM:D3_LSTM,TRANS:D3_TRANS,DLIN:D3_DLIN,PATCH:D3_PATCH},
 {row:4,col:0,xr:[0,791],yr:[7480,16420],xt:E1_XT,yt:E1_YT,rect:[631,742,7480,12700],X:E1_X,TRUE:E1_TRUE,AX:E1_X,AUTO:E1_AUTO,PX:E1_PX,PROP:E1_PROP,MX:E1_MX,INF:E1_INF,TRANS:E1_TRANS,LSTM:E1_LSTM,DLIN:E1_DLIN,TIDE:E1_TIDE,TIMES:E1_TIMES,ITR:E1_ITR,FRETS:E1_FRETS,PATCH:E1_PATCH},
 {row:4,col:1,xr:[614,728],yr:[7439,13287],xt:E2_XT,yt:E2_YT,rect:[669.5,690,7574,12843],X:E2_X,TRUE:E2_TRUE,PROP:E2_PROP,AX:E2_X,AUTO:E2_AUTO,MX:E2_MX,INF:E2_INF,TRANS:E2_TRANS,LSTM:E2_LSTM,DLIN:E2_DLIN,TIDE:E2_TIDE,TIMES:E2_TIMES,ITR:E2_ITR,FRETS:E2_FRETS,PATCH:E2_PATCH},
 {row:4,col:2,xr:[667,686.5],yr:[7400,13300],xt:E3_XT,yt:E3_YT,X:E3_X,TRUE:E3_TRUE,PROP:E3_PROP,MX:E3_MX,TRANS:E3_TRANS,INF:E3_INF,LSTM:E3_LSTM,AUTO:E3_AUTO,TIMES:E3_TIMES,TIDE:E3_TIDE,FRETS:E3_FRETS,ITR:E3_ITR,DLIN:E3_DLIN,PATCH:E3_PATCH},
 {row:5,col:0,xr:[0,773],yr:[4465,10886],xt:F1_XT,yt:F1_YT,rect:[637,746,4972,8433],X:F1_X,TRUE:F1_TRUE,AX:F1_X,AUTO:F1_AUTO,PX:F1_PX,PROP:F1_PROP,MX:F1_MX,INF:F1_INF,TRANS:F1_TRANS,LSTM:F1_LSTM,DLIN:F1_DLIN,TIDE:F1_TIDE,TIMES:F1_TIMES,ITR:F1_ITR,FRETS:F1_FRETS,PATCH:F1_PATCH},
 {row:5,col:1,xr:[635.6,745],yr:[4602,8544],xt:F2_XT,yt:F2_YT,rect:[666.6,686.4,4602,8146],X:F2_X,TRUE:F2_TRUE,PROP:F2_PROP,AX:F2_X,AUTO:F2_AUTO,MX:F2_MX,INF:F2_INF,TRANS:F2_TRANS,LSTM:F2_LSTM,DLIN:F2_DLIN,TIDE:F2_TIDE,TIMES:F2_TIMES,ITR:F2_ITR,FRETS:F2_FRETS,PATCH:F2_PATCH},
 {row:5,col:2,xr:[667.1,686.5],yr:[4746,8482],xt:F3_XT,yt:F3_YT,X:F3_X,TRUE:F3_TRUE,PROP:F3_PROP,MX:F3_MX,INF:F3_INF,TRANS:F3_TRANS,LSTM:F3_LSTM,AUTO:F3_AUTO,ITR:F3_ITR,FRETS:F3_FRETS,TIDE:F3_TIDE,TIMES:F3_TIMES,DLIN:F3_DLIN,PATCH:F3_PATCH}
];

function lineWidth(key,col){
  if(key==='TRUE') return col===2?1.9:1.7;
  if(key==='PROP') return col===0?1.5:(col===1?1.6:1.8);
  return 0.9;
}

function addPanel(p){
  const bx0=COL_X[p.col][0], bx1=COL_X[p.col][1];
  const by0=ROW_TOP[p.row], by1=by0+BOX_H;
  const left=Math.floor(bx0-YW), top=Math.floor(by0-PT);
  const w=Math.ceil(bx1+PR-left), h=Math.ceil(by1+XH+PB-top);
  const cv=document.createElement('canvas');
  cv.className='panel'; cv.width=w; cv.height=h;
  cv.style.left=left+'px'; cv.style.top=top+'px'; cv.style.width=w+'px'; cv.style.height=h+'px';
  page.appendChild(cv);
  const pad={left:bx0-YW-left, top:by0-top, right:left+w-bx1, bottom:top+h-by1-XH};
  const datasets=seriesFor(p).map(([k,xs,ys])=>({
    label:k, data:pts(xs,ys), borderColor:COLORS[k], backgroundColor:COLORS[k],
    borderWidth:lineWidth(k,p.col), pointRadius:0, fill:false, tension:0
  }));
  const rect=p.rect;
  const deco={id:'deco',
    afterDatasetsDraw(chart){
      if(!rect) return;
      const a=chart.chartArea, xs=chart.scales.x, ys=chart.scales.y, ctx=chart.ctx;
      const x0=xs.getPixelForValue(rect[0]), x1=xs.getPixelForValue(rect[1]);
      const y0=ys.getPixelForValue(rect[3]), y1=ys.getPixelForValue(rect[2]);
      ctx.save(); ctx.beginPath(); ctx.rect(a.left-1,a.top-1,a.width+2,a.height+2); ctx.clip();
      ctx.strokeStyle='rgba(242,130,130,0.85)'; ctx.lineWidth=1.1;
      ctx.strokeRect(x0,y0,x1-x0,y1-y0); ctx.restore();
    },
    afterDraw(chart){
      const a=chart.chartArea, ctx=chart.ctx;
      ctx.save(); ctx.strokeStyle='#7d7d7d'; ctx.lineWidth=1;
      ctx.strokeRect(a.left,a.top,a.width,a.height); ctx.restore();
    }
  };
  new Chart(cv,{
    type:'line',
    data:{datasets:datasets},
    options:{
      responsive:false, animation:false, events:[], devicePixelRatio:window.devicePixelRatio||1,
      layout:{padding:pad},
      plugins:{legend:{display:false},tooltip:{enabled:false}},
      elements:{point:{radius:0},line:{borderJoinStyle:'round',borderCapStyle:'round'}},
      scales:{
        x:{type:'linear',min:p.xr[0],max:p.xr[1],
          afterBuildTicks:(s)=>{s.ticks=p.xt.map(v=>({value:v}));},
          afterFit:(s)=>{s.height=XH;},
          ticks:{autoSkip:false,maxRotation:0,padding:0,color:'#222',font:{family:FONT,size:7},callback:(v)=>String(v)},
          grid:{display:true,drawOnChartArea:false,drawTicks:true,tickLength:2,color:'#666'},
          border:{display:false},
          title:{display:true,text:'Sample',color:'#222',font:{family:FONT,size:8.5},padding:{top:0,bottom:2}}
        },
        y:{type:'linear',min:p.yr[0],max:p.yr[1],
          afterBuildTicks:(s)=>{s.ticks=p.yt.map(v=>({value:v}));},
          afterFit:(s)=>{s.width=YW;},
          ticks:{autoSkip:false,padding:1,color:'#222',font:{family:FONT,size:7},callback:(v)=>fmt(v)},
          grid:{display:true,drawOnChartArea:false,drawTicks:true,tickLength:2,color:'#666'},
          border:{display:false},
          title:{display:true,text:'Close price',color:'#222',font:{family:FONT,size:8.5},padding:{top:1,bottom:1}}
        }
      }
    },
    plugins:[deco]
  });
}

PANELS.forEach(addPanel);

// titles
ROW_TITLES.forEach((t,i)=>{
  const d=document.createElement('div'); d.className='ttl'; d.textContent=t;
  d.style.left='8px'; d.style.top=(ROW_TOP[i]-14)+'px'; page.appendChild(d);
});

// overlay: ellipses, arrows, separators
(function(){
  const dpr=window.devicePixelRatio||1;
  const cv=document.createElement('canvas'); cv.id='overlay';
  cv.width=550*dpr; cv.height=741*dpr; cv.style.width='550px'; cv.style.height='741px';
  page.appendChild(cv);
  const ctx=cv.getContext('2d'); ctx.scale(dpr,dpr);
  ROW_TOP.forEach((t,i)=>{
    const cy=t+BOX_H/2;
    ctx.save(); ctx.strokeStyle='#111'; ctx.lineWidth=1.5; ctx.setLineDash([8,5]);
    ctx.beginPath(); ctx.ellipse(300,cy+1.5,86,51.5,0,0,Math.PI*2); ctx.stroke(); ctx.restore();
    [[194,213],[368,386]].forEach(([a,b])=>{
      ctx.save(); ctx.strokeStyle='#333'; ctx.fillStyle='#333'; ctx.lineWidth=1;
      ctx.beginPath(); ctx.moveTo(a,cy); ctx.lineTo(b-3,cy); ctx.stroke();
      ctx.beginPath(); ctx.moveTo(b,cy); ctx.lineTo(b-4.5,cy-2.5); ctx.lineTo(b-4.5,cy+2.5); ctx.closePath(); ctx.fill();
      ctx.restore();
    });
    if(i<5){
      const sy=t+BOX_H+21;
      ctx.save(); ctx.strokeStyle='#444'; ctx.lineWidth=1.2; ctx.setLineDash([7,4.5]);
      ctx.beginPath(); ctx.moveTo(2,sy); ctx.lineTo(549,sy); ctx.stroke(); ctx.restore();
    }
  });
})();

// legend
(function(){
  const lg=document.createElement('div'); lg.id='legend'; page.appendChild(lg);
  const colX=[4,71,128,186.7,239,295.7];
  [LEGEND_ROW1,LEGEND_ROW2].forEach((row,r)=>{
    row.forEach(([k,name],c)=>{
      const cy=r===0?4.2:13.6;
      const ln=document.createElement('div'); ln.className='ln';
      const wdt=(k==='TRUE'||k==='PROP')?2:1.5;
      ln.style.left=colX[c]+'px'; ln.style.width='16.5px'; ln.style.top=(cy-wdt/2)+'px';
      ln.style.borderTop=wdt+'px solid '+COLORS[k];
      lg.appendChild(ln);
      const tx=document.createElement('div'); tx.className='li'; tx.textContent=name;
      tx.style.left=(colX[c]+19)+'px'; tx.style.top=(cy-4)+'px';
      lg.appendChild(tx);
    });
  });
})();
</script>
</body></html>
